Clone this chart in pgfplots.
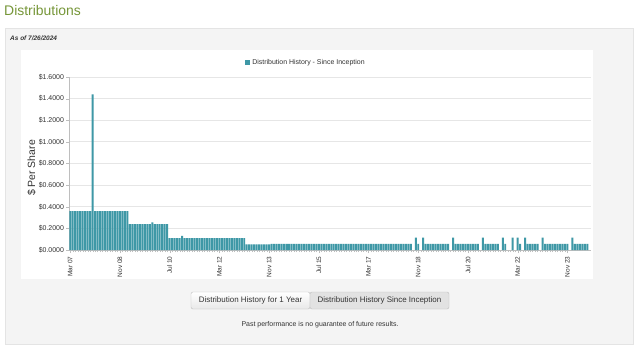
\documentclass[border=0pt]{standalone}
\usepackage{fontspec}
\setmainfont{Liberation Sans}
\usepackage{pgfplots}
\pgfplotsset{compat=1.18}
\definecolor{barcol}{RGB}{62,152,166}
\definecolor{titlegreen}{RGB}{118,150,56}
\definecolor{panel}{RGB}{244,244,244}
\definecolor{panelline}{RGB}{228,228,228}
\definecolor{txt}{RGB}{51,51,51}
\definecolor{gridc}{RGB}{230,230,230}
\definecolor{axc}{RGB}{190,190,190}
\begin{document}
\begin{tikzpicture}[x=1bp,y=1bp]
\useasboundingbox (0,0) rectangle (640,351);
\fill[white] (0,0) rectangle (640,351);
% panel
\filldraw[fill=panel,draw=panelline] (5,7) rectangle (633,323);
\fill[white] (21,72) rectangle (593,301);
% title
\node[anchor=base west,inner sep=0pt,text=titlegreen,font=\fontsize{14}{16}\selectfont] at (4,335.5) {Distributions};
\node[anchor=west,inner sep=0pt,text=txt,font=\fontsize{6.5}{8}\selectfont\bfseries\itshape] at (10,312.3) {As of 7/26/2024};
% y label
\node[rotate=90,anchor=base,text=txt,inner sep=0pt,font=\fontsize{10.5}{13}\selectfont] at (35,183) {\$ Per Share};
\begin{axis}[
  at={(69bp,101bp)}, anchor=south west,
  scale only axis, width=522bp, height=173bp,
  xmin=-0.5, xmax=209.5, ymin=0, ymax=1.6,
  axis lines=left, axis line style={-,draw=axc},
  ytick={0,0.2,0.4,0.6,0.8,1.0,1.2,1.4,1.6},
  yticklabels={\$0.0000,\$0.2000,\$0.4000,\$0.6000,\$0.8000,\$1.0000,\$1.2000,\$1.4000,\$1.6000},
  xtick={0,20,40,60,80,100,120,140,160,180,200},
  xticklabels={Mar 07,Nov 08,Jul 10,Mar 12,Nov 13,Jul 15,Mar 17,Nov 18,Jul 20,Mar 22,Nov 23},
  minor x tick num=19,
  tick align=outside, tick style={draw=axc},
  major tick length=3bp, minor tick length=2bp,
  ymajorgrids, grid style={draw=gridc, line width=0.8bp},
  /pgf/number format/assume math mode=true,
  yticklabel style={font=\fontsize{7}{9}\selectfont, text=txt, xshift=1.5bp},
  xticklabel style={rotate=90, anchor=east, font=\fontsize{6.5}{8}\selectfont, text=txt},
  legend style={at={(0.454,1.081)}, anchor=center, draw=none, fill=none,
    font=\fontsize{7}{8}\selectfont, text=txt, inner sep=0pt},
  legend image code/.code={\fill[barcol] (0bp,-2.5bp) rectangle (5bp,2.5bp);},
]
\addplot[ybar, bar width=0.8, fill=barcol, draw=none] coordinates {
(0,0.36)(1,0.36)(2,0.36)(3,0.36)(4,0.36)(5,0.36)(6,0.36)(7,0.36)(8,0.36)
(9,1.44)
(10,0.36)(11,0.36)(12,0.36)(13,0.36)(14,0.36)(15,0.36)(16,0.36)(17,0.36)(18,0.36)(19,0.36)(20,0.36)(21,0.36)(22,0.36)(23,0.36)
(24,0.24)(25,0.24)(26,0.24)(27,0.24)(28,0.24)(29,0.24)(30,0.24)(31,0.24)(32,0.24)
(33,0.255)
(34,0.24)(35,0.24)(36,0.24)(37,0.24)(38,0.24)(39,0.24)
(40,0.11)(41,0.11)(42,0.11)(43,0.11)(44,0.11)
(45,0.13)
(46,0.11)(47,0.11)(48,0.11)(49,0.11)(50,0.11)(51,0.11)(52,0.11)(53,0.11)(54,0.11)(55,0.11)(56,0.11)(57,0.11)(58,0.11)(59,0.11)(60,0.11)(61,0.11)(62,0.11)(63,0.11)(64,0.11)(65,0.11)(66,0.11)(67,0.11)(68,0.11)(69,0.11)(70,0.11)
(71,0.0525)(72,0.0525)(73,0.0525)(74,0.0525)(75,0.0525)(76,0.0525)(77,0.0525)(78,0.0525)(79,0.0525)(80,0.0525)
(81,0.056)(82,0.056)(83,0.056)(84,0.056)(85,0.056)(86,0.056)(87,0.056)(88,0.056)(89,0.056)(90,0.056)
(91,0.056)(92,0.056)(93,0.056)(94,0.056)(95,0.056)(96,0.056)(97,0.056)(98,0.056)(99,0.056)(100,0.056)
(101,0.056)(102,0.056)(103,0.056)(104,0.056)(105,0.056)(106,0.056)(107,0.056)(108,0.056)(109,0.056)(110,0.056)
(111,0.056)(112,0.056)(113,0.056)(114,0.056)(115,0.056)(116,0.056)(117,0.056)(118,0.056)(119,0.056)(120,0.056)
(121,0.056)(122,0.056)(123,0.056)(124,0.056)(125,0.056)(126,0.056)(127,0.056)(128,0.056)(129,0.056)(130,0.056)
(131,0.056)(132,0.056)(133,0.056)(134,0.056)(135,0.056)(136,0.056)(137,0.056)
(139,0.115)(140,0.056)
(142,0.115)
(143,0.056)(144,0.056)(145,0.056)(146,0.056)(147,0.056)(148,0.056)(149,0.056)(150,0.056)(151,0.056)(152,0.056)
(154,0.115)
(155,0.056)(156,0.056)(157,0.056)(158,0.056)(159,0.056)(160,0.056)(161,0.056)(162,0.056)(163,0.056)(164,0.056)
(166,0.115)
(167,0.056)(168,0.056)(169,0.056)(170,0.056)(171,0.056)(172,0.056)
(174,0.115)(175,0.056)
(178,0.115)
(180,0.115)(181,0.056)
(183,0.115)
(184,0.056)(185,0.056)(186,0.056)(187,0.056)(188,0.056)
(190,0.115)
(191,0.056)(192,0.056)(193,0.056)(194,0.056)(195,0.056)(196,0.056)(197,0.056)(198,0.056)(199,0.056)(200,0.056)
(202,0.115)
(203,0.056)(204,0.056)(205,0.056)(206,0.056)(207,0.056)(208,0.056)
};
\addlegendentry{Distribution History - Since Inception}
\end{axis}
% buttons
\draw[draw=axc,top color=white,bottom color={rgb,255:red,232;green,232;blue,232},rounded corners=2bp] (191,42) rectangle (310,59);
\draw[draw=axc,fill={rgb,255:red,226;green,226;blue,226},rounded corners=2bp] (310,42) rectangle (449,59);
\node[text=txt,inner sep=0pt,font=\fontsize{8}{10}\selectfont] at (250.5,50.5) {Distribution History for 1 Year};
\node[text=txt,inner sep=0pt,font=\fontsize{8}{10}\selectfont] at (379.5,50.5) {Distribution History Since Inception};
\node[text=txt,inner sep=0pt,font=\fontsize{7}{9}\selectfont] at (320,26) {Past performance is no guarantee of future results.};
\end{tikzpicture}
\end{document}
